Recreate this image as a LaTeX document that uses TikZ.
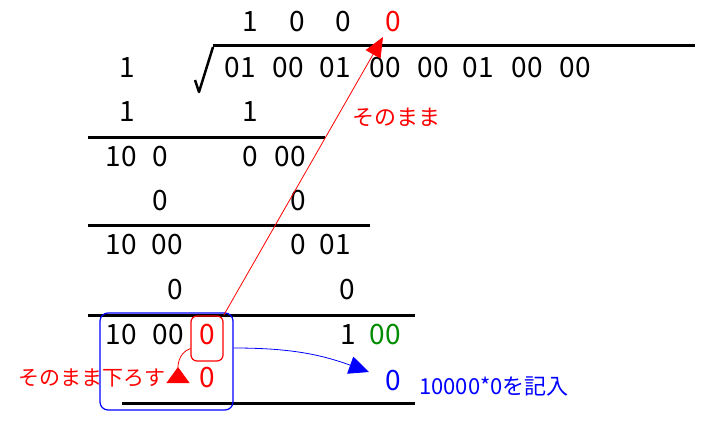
\documentclass[tikz,border=0pt]{standalone}
\usepackage{fontspec}
\setmainfont{Noto Sans CJK JP}
\usetikzlibrary{arrows.meta}
\definecolor{sqgreen}{RGB}{0,140,0}

\begin{document}
\begin{tikzpicture} [x=1pt, y=-1pt, every node/.style={inner sep=0pt},
                num/.style={font=\fontsize{28}{28}\selectfont},
                note/.style={font=\fontsize{22}{22}\selectfont},
                rule/.style={draw=black, line width=3pt}]
                \tikzset{red edge/.style={draw=red, line width=0.8pt, -{Triangle[length=20pt, width=17pt]}}}
                \tikzset{blue edge/.style={draw=blue, line width=0.8pt, -{Triangle[length=20pt, width=18pt]}}}
                \useasboundingbox (0,0) rectangle (711,420);
                % quotient
                \node[num] (q1) at (250,22) {1};
                \node[num] (q2) at (297,22) {0};
                \node[num] (q3) at (343,22) {0};
                \node[num, red] (q4) at (393,22) {0};
                % radical sign
                \draw [line width=2.5pt, line join=round] (195,80) -- (199,92) -- (213,47);
                \draw [rule] (213,46) -- (695,46);
                % radicand
                \node[num] (d1) at (127,68) {1};
                \node[num] (g1) at (240,68) {01};
                \node[num] (g2) at (288,68) {00};
                \node[num] (g3) at (335,68) {01};
                \node[num] (g4) at (385,68) {00};
                \node[num] (g5) at (433,68) {00};
                \node[num] (g6) at (478,68) {01};
                \node[num] (g7) at (527,68) {00};
                \node[num] (g8) at (575,68) {00};
                % step 1
                \node[num] (a1) at (127,112) {1};
                \node[num] (b1) at (250,112) {1};
                \draw [rule] (88,137) -- (325,137);
                % step 2
                \node[num] (a2) at (121,157) {10};
                \node[num] (a2x) at (160,157) {0};
                \node[num] (r2) at (250,157) {0};
                \node[num] (r2x) at (290,157) {00};
                \node[num] (a3) at (160,201) {0};
                \node[num] (b3) at (298,201) {0};
                \draw [rule] (88,225) -- (370,225);
                % step 3
                \node[num] (a4) at (121,245) {10};
                \node[num] (a4x) at (167,245) {00};
                \node[num] (r4) at (298,245) {0};
                \node[num] (r4x) at (335,245) {01};
                \node[num] (a5) at (175,290) {0};
                \node[num] (b5) at (347,290) {0};
                \draw [rule] (88,315) -- (415,315);
                % step 4
                \node[num] (a6) at (121,335) {10};
                \node[num] (a6x) at (168,335) {00};
                \node[num, red] (a6y) at (207,335) {0};
                \node[num] (r6) at (348,335) {1};
                \node[num, sqgreen] (r6x) at (385,335) {00};
                \node[num, red] (a7) at (207,378) {0};
                \node[num, blue] (b7) at (393,381) {0};
                \draw [rule] (122,403) -- (415,403);
                % frames
                \node[draw=red, line width=1.2pt, rounded corners=6pt, minimum width=32pt, minimum height=45pt] (rbox) at (207,338.5) {};
                \node[draw=blue, line width=1.2pt, rounded corners=8pt, minimum width=133pt, minimum height=97pt] (bbox) at (166.5,361.5) {};
                % notes
                \node[note, red, anchor=west] (n1) at (352,117) {そのまま};
                \node[note, red, anchor=east, font=\fontsize{21}{21}\selectfont] (n2) at (166,378) {そのまま下ろす};
                \node[note, blue, anchor=west] (n3) at (419,386) {10000*0を記入};
                % arrows
                \coordinate (tq) at (383,37);
                \coordinate (td) at (178,383);
                \coordinate (tb) at (369,372);
                \draw [red edge] (rbox.north east) -- (tq);
                \draw [draw=red, line width=0.8pt, -{Triangle[reversed, length=16pt, width=23pt]}] ([yshift=-10pt]rbox.west) to[out=200, in=90] (td);
                \draw [blue edge] ([yshift=13.5pt]bbox.east) to[out=0, in=160] (tb);
            \end{tikzpicture}
\end{document}
